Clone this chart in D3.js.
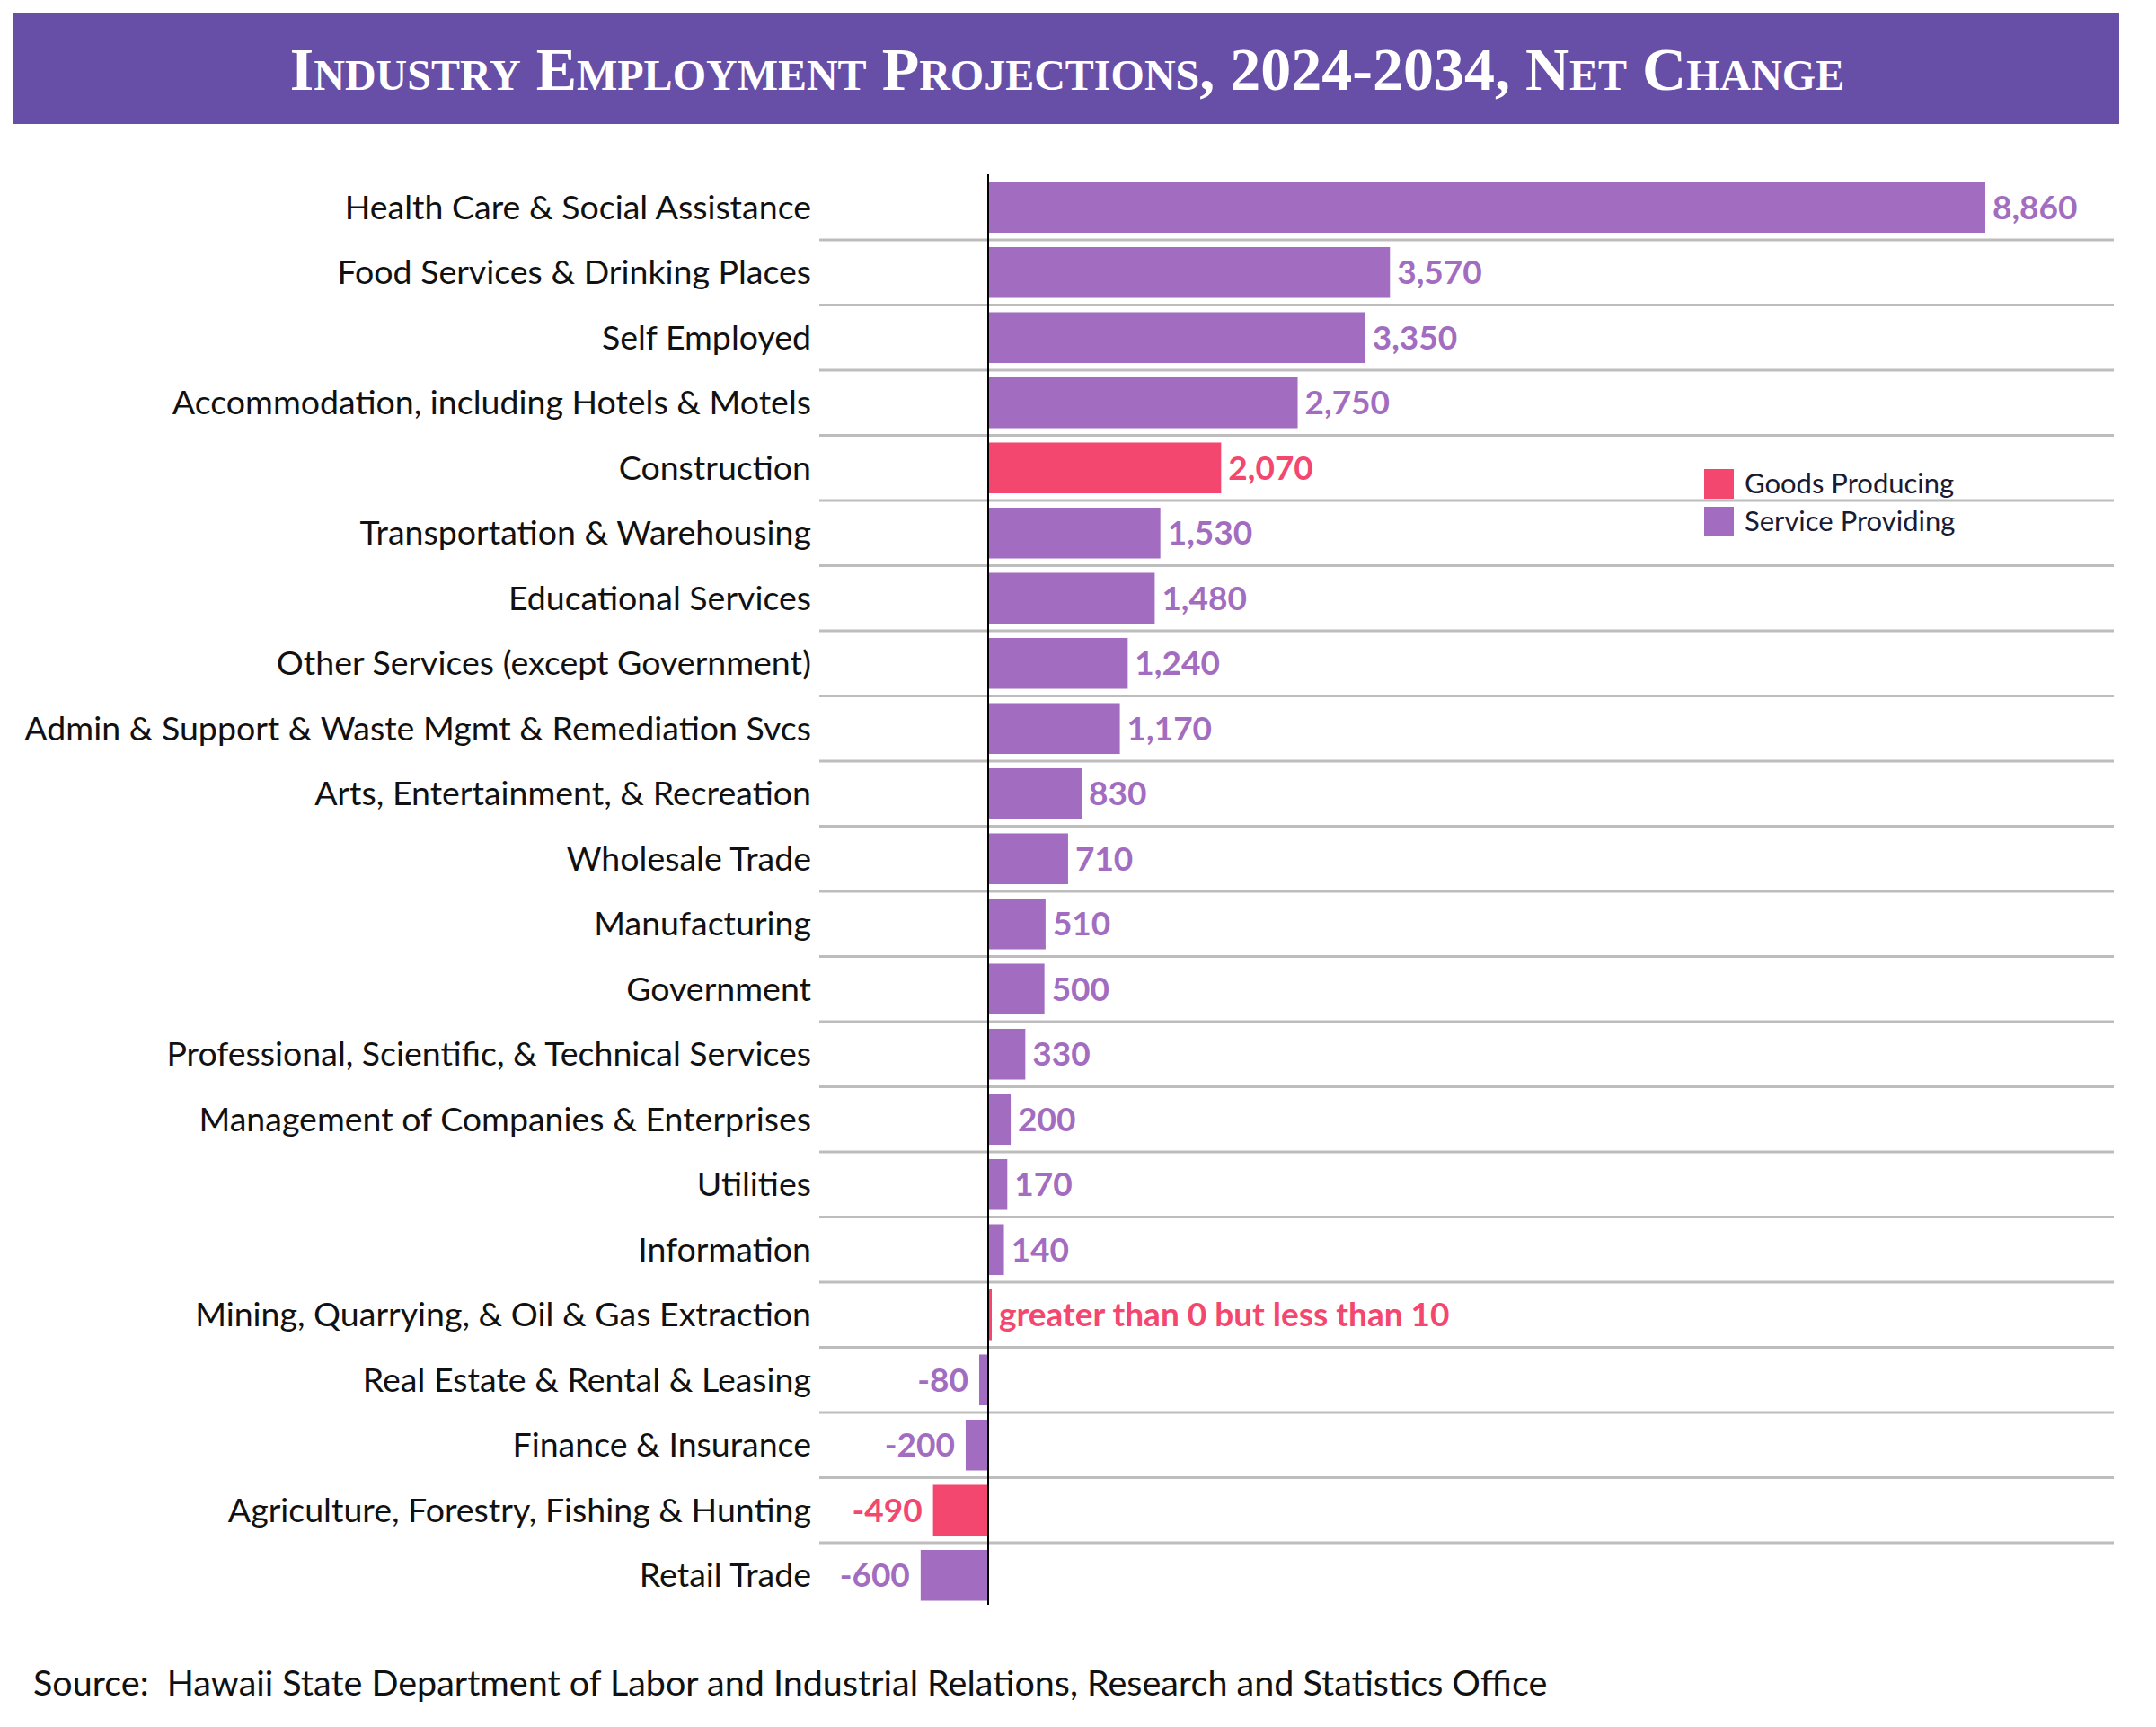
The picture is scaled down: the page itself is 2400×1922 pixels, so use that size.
<!DOCTYPE html>
<html>
<head>
<meta charset="utf-8">
<script src="https://cdn.jsdelivr.net/npm/d3@7/dist/d3.min.js"></script>
<style>
  html, body { margin: 0; padding: 0; background: #fff; }
  svg { display: block; }
</style>
</head>
<body>
<script>
const categories = [
  "Health Care & Social Assistance",
  "Food Services & Drinking Places",
  "Self Employed",
  "Accommodation, including Hotels & Motels",
  "Construction",
  "Transportation & Warehousing",
  "Educational Services",
  "Other Services (except Government)",
  "Admin & Support & Waste Mgmt & Remediation Svcs",
  "Arts, Entertainment, & Recreation",
  "Wholesale Trade",
  "Manufacturing",
  "Government",
  "Professional, Scientific, & Technical Services",
  "Management of Companies & Enterprises",
  "Utilities",
  "Information",
  "Mining, Quarrying, & Oil & Gas Extraction",
  "Real Estate & Rental & Leasing",
  "Finance & Insurance",
  "Agriculture, Forestry, Fishing & Hunting",
  "Retail Trade"
];
const values = [8860, 3570, 3350, 2750, 2070, 1530, 1480, 1240, 1170, 830, 710, 510, 500, 330, 200, 170, 140, 5, -80, -200, -490, -600];
const sectors = ["S","S","S","S","G","S","S","S","S","S","S","S","S","S","S","S","S","G","S","S","G","S"];
const specialLabels = { "Mining, Quarrying, & Oil & Gas Extraction": "greater than 0 but less than 10" };
const legendKeys = ["G", "S"];
const legendNames = ["Goods Producing", "Service Providing"];
const titleText = "Industry Employment Projections, 2024-2034, Net Change";
const sourceText = "Source:  Hawaii State Department of Labor and Industrial Relations, Research and Statistics Office";

const W = 2400, H = 1922;
const colors = { G: "#f4476f", S: "#a26dc0" };
const fontSans = "Lato, 'Open Sans', sans-serif";

const svg = d3.select("body").append("svg").attr("width", W).attr("height", H);

// Title banner
svg.append("rect").attr("x", 15).attr("y", 15).attr("width", 2344).attr("height", 123).attr("fill", "#674ea7");
svg.append("text")
  .attr("x", 1188).attr("y", 100)
  .attr("text-anchor", "middle")
  .attr("fill", "#fff")
  .style("font-family", "'Liberation Serif', 'DejaVu Serif', serif")
  .style("font-weight", "bold")
  .style("font-variant", "small-caps")
  .style("font-size", "68px")
  .text(titleText);

const x = d3.scaleLinear().domain([0, 8860]).range([1100, 2210]);
const y = d3.scaleBand().domain(categories).range([194.5, 1789.5]).paddingInner(0.22).paddingOuter(0.11);
const step = y.step();

// row separator lines
const seps = categories.slice(1);
svg.append("g").selectAll("line").data(seps).join("line")
  .attr("x1", 912).attr("x2", 2353)
  .attr("y1", d => y(d) - step * y.paddingInner() / 2)
  .attr("y2", d => y(d) - step * y.paddingInner() / 2)
  .attr("stroke", "#bdbdbd").attr("stroke-width", 3);

// bars
const data = categories.map((c, i) => ({ c, v: values[i], s: sectors[i] }));
svg.append("g").selectAll("rect").data(data).join("rect")
  .attr("x", d => Math.min(x(0), x(d.v)))
  .attr("y", d => y(d.c))
  .attr("width", d => Math.max(4, Math.abs(x(d.v) - x(0))))
  .attr("height", y.bandwidth())
  .attr("fill", d => colors[d.s]);

// zero axis
svg.append("line")
  .attr("x1", x(0)).attr("x2", x(0))
  .attr("y1", 194).attr("y2", 1786)
  .attr("stroke", "#000").attr("stroke-width", 2);

// category labels
svg.append("g").selectAll("text").data(categories).join("text")
  .attr("x", 903)
  .attr("y", d => y(d) + y.bandwidth() / 2)
  .attr("dy", "0.35em")
  .attr("text-anchor", "end")
  .attr("fill", "#111")
  .style("font-family", fontSans)
  .style("font-size", "37.5px")
  .text(d => d);

// value labels
const fmt = v => d3.format(",")(v).replace("\u2212", "-");
svg.append("g").selectAll("text").data(data).join("text")
  .attr("x", d => d.v >= 0 ? Math.max(x(d.v), x(0) + 4) + 8 : x(d.v) - 12)
  .attr("y", d => y(d.c) + y.bandwidth() / 2)
  .attr("dy", "0.35em")
  .attr("text-anchor", d => d.v >= 0 ? "start" : "end")
  .attr("fill", d => colors[d.s])
  .style("font-family", fontSans)
  .style("font-weight", "bold")
  .style("font-size", "37px")
  .text(d => specialLabels[d.c] || fmt(d.v));

// legend
const lg = svg.append("g");
legendKeys.forEach((k, i) => {
  lg.append("rect").attr("x", 1897).attr("y", 522 + i * 42).attr("width", 33).attr("height", 33).attr("fill", colors[k]);
  lg.append("text").attr("x", 1942).attr("y", 549 + i * 42)
    .attr("fill", "#1a1a33")
    .style("font-family", fontSans)
    .style("font-size", "31px")
    .text(legendNames[i]);
});

// source
svg.append("text").attr("x", 37).attr("y", 1887)
  .attr("fill", "#111")
  .style("font-family", fontSans)
  .style("font-size", "39.5px")
  .attr("xml:space", "preserve")
  .text(sourceText);
</script>
</body>
</html>
